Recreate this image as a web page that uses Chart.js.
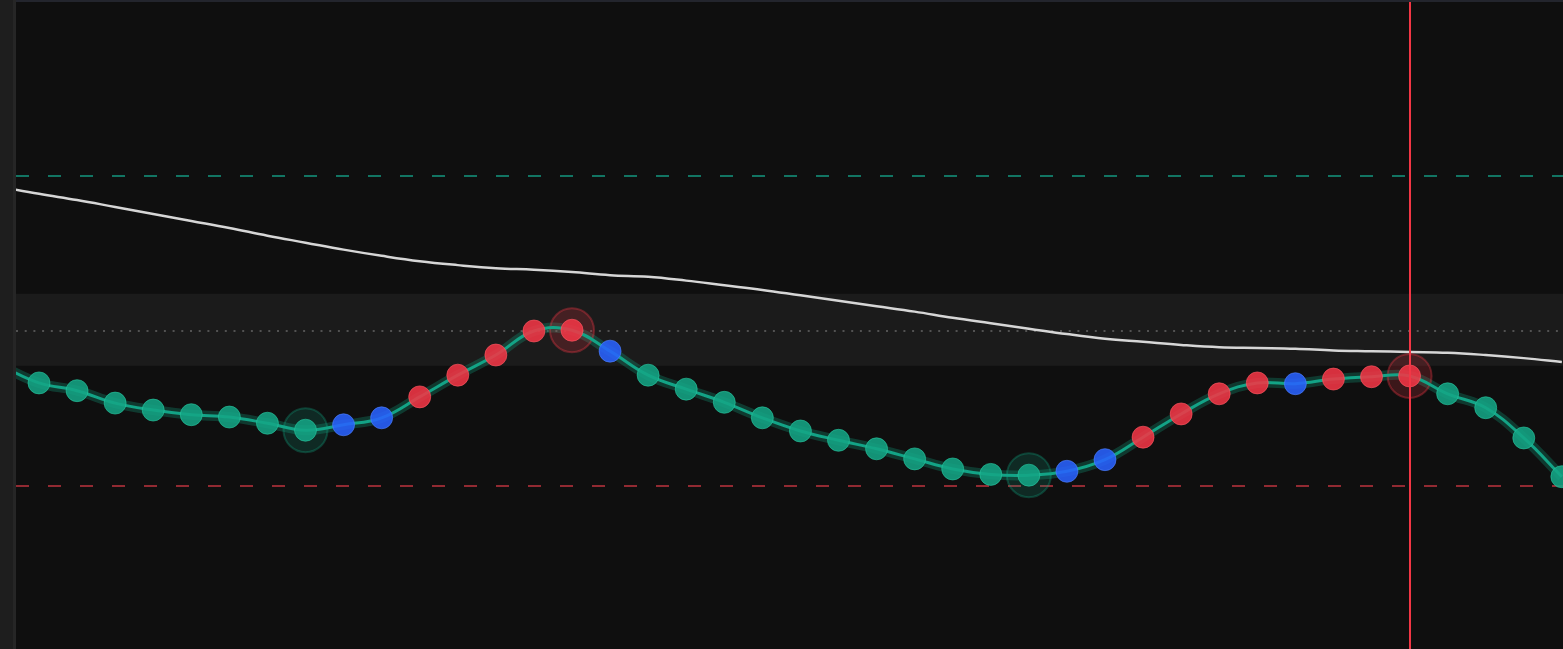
<!DOCTYPE html>
<html>
<head>
<meta charset="utf-8">
<script src="https://cdn.jsdelivr.net/npm/chart.js@4.4.1/dist/chart.umd.min.js"></script>
<style>
  html, body { margin: 0; padding: 0; background: #0f0f0f; overflow: hidden; }
  #side { position: absolute; left: 0; top: 0; width: 13px; height: 649px; background: #1e1e1e; }
  #sideBorder { position: absolute; left: 13px; top: 0; width: 3px; height: 649px; background: #262626; }
  #topBorder { position: absolute; left: 16px; top: 0; width: 1547px; height: 2px; background: #23252d; }
  #wrap { position: absolute; left: 16px; top: 2px; width: 1547px; height: 647px; }
</style>
</head>
<body>
<div id="side"></div>
<div id="sideBorder"></div>
<div id="topBorder"></div>
<div id="wrap"><canvas id="rsiChart" width="1547" height="647"></canvas></div>
<script>
// oscillator values, one per bar (index 0 sits just off the left edge)
const rsiValues = [45.5, 43.3, 42.3, 40.7, 39.8, 39.2, 38.9, 38.1, 37.2, 37.9,
                   38.8, 41.5, 44.3, 46.9, 50.0, 50.1, 47.4, 44.3, 42.5, 40.8,
                   38.8, 37.1, 35.9, 34.8, 33.5, 32.2, 31.5, 31.4, 31.9, 33.4,
                   36.3, 39.3, 41.9, 43.3, 43.2, 43.8, 44.1, 44.2, 41.9, 40.1,
                   36.2, 31.2];
// g = falling, r = rising, b = neutral
const pointStates = ['g','g','g','g','g','g','g','g','g','b',
                     'b','r','r','r','r','r','b','g','g','g',
                     'g','g','g','g','g','g','g','g','b','b',
                     'r','r','r','r','b','r','r','r','g','g',
                     'g','g'];
// slow signal line
const signalValues = [68.6, 67.7, 66.9, 66.0, 65.1, 64.2, 63.3, 62.3, 61.4, 60.5,
                      59.7, 59.0, 58.5, 58.1, 57.9, 57.6, 57.2, 57.0, 56.5, 55.9,
                      55.3, 54.6, 53.9, 53.2, 52.5, 51.7, 51.0, 50.3, 49.6, 49.0,
                      48.6, 48.2, 47.9, 47.8, 47.7, 47.5, 47.4, 47.3, 47.2, 46.9,
                      46.5, 46.0];
const pivotIndexes = [8, 15, 27, 37];
const cursorIndex = 37;
const upperLevel = 70, lowerLevel = 30, midLevel = 50;
const bandLow = 45.5, bandHigh = 54.8;

const fills = { g: 'rgba(20,165,133,0.88)', r: 'rgba(242,54,69,0.88)', b: 'rgba(41,98,255,0.88)' };
const borders = { g: 'rgba(40,200,160,0.6)', r: 'rgba(255,90,100,0.6)', b: 'rgba(80,130,255,0.6)' };
const halos = { g: 'rgba(18,168,132,0.18)', r: 'rgba(242,54,69,0.2)', b: 'rgba(41,98,255,0.2)' };
const haloBorders = { g: 'rgba(18,168,132,0.3)', r: 'rgba(242,54,69,0.35)', b: 'rgba(41,98,255,0.35)' };

const rsiPoints = rsiValues.map((v, i) => ({ x: i, y: v }));
const signalPoints = signalValues.map((v, i) => ({ x: i, y: v }));
const pivotPoints = pivotIndexes.map(i => ({ x: i, y: rsiValues[i] }));

const levelsPlugin = {
    id: 'levels',
    beforeDatasetsDraw(chart) {
        const { ctx, chartArea: a, scales: { x, y } } = chart;
        ctx.save();
        // neutral band
        ctx.fillStyle = '#1b1b1b';
        ctx.fillRect(a.left, y.getPixelForValue(bandHigh), a.right - a.left,
                     y.getPixelForValue(bandLow) - y.getPixelForValue(bandHigh));
        const hline = (val, color, dash, width) => {
            const py = Math.round(y.getPixelForValue(val));
            ctx.beginPath();
            ctx.setLineDash(dash);
            ctx.strokeStyle = color;
            ctx.lineWidth = width;
            ctx.moveTo(a.left, py);
            ctx.lineTo(a.right, py);
            ctx.stroke();
        };
        hline(upperLevel, '#127563', [13, 19], 2);
        hline(lowerLevel, '#922a32', [13, 19], 2);
        hline(midLevel, '#525252', [2, 6.7], 2);
        ctx.restore();
    },
    afterDatasetsDraw(chart) {
        const { ctx, chartArea: a, scales: { x } } = chart;
        const px = Math.round(x.getPixelForValue(cursorIndex));
        ctx.save();
        ctx.strokeStyle = '#f23645';
        ctx.lineWidth = 2;
        ctx.beginPath();
        ctx.moveTo(px, a.top);
        ctx.lineTo(px, a.bottom);
        ctx.stroke();
        ctx.restore();
    }
};

const ctx = document.getElementById('rsiChart').getContext('2d');
new Chart(ctx, {
    type: 'line',
    data: {
        datasets: [{
            label: 'Signal',
            data: signalPoints,
            borderColor: '#d6d6d6', borderWidth: 2.5, tension: 0.4, pointRadius: 0, fill: false, order: 5
        }, {
            label: 'Glow',
            data: rsiPoints,
            borderColor: 'rgba(18,168,132,0.28)', borderWidth: 10, tension: 0.4, pointRadius: 0, fill: false, order: 4
        }, {
            label: 'Pivots',
            data: pivotPoints,
            showLine: false,
            pointRadius: 22,
            pointBackgroundColor: pivotIndexes.map(i => halos[pointStates[i]]),
            pointBorderColor: pivotIndexes.map(i => haloBorders[pointStates[i]]),
            pointBorderWidth: 2, order: 3
        }, {
            label: 'RSI',
            data: rsiPoints,
            borderColor: '#13a386', borderWidth: 3, tension: 0.4, fill: false,
            pointRadius: 11,
            pointBackgroundColor: pointStates.map(s => fills[s]),
            pointBorderColor: pointStates.map(s => borders[s]),
            pointBorderWidth: 1, order: 1
        }]
    },
    options: {
        responsive: false,
        animation: false,
        layout: { padding: 0, autoPadding: false },
        plugins: { legend: { display: false }, tooltip: { enabled: false } },
        events: [],
        scales: {
            x: { type: 'linear', min: 0.396, max: 41.03, display: false },
            y: { min: 8.97, max: 92.45, display: false }
        }
    },
    plugins: [levelsPlugin]
});
</script>
</body>
</html>
